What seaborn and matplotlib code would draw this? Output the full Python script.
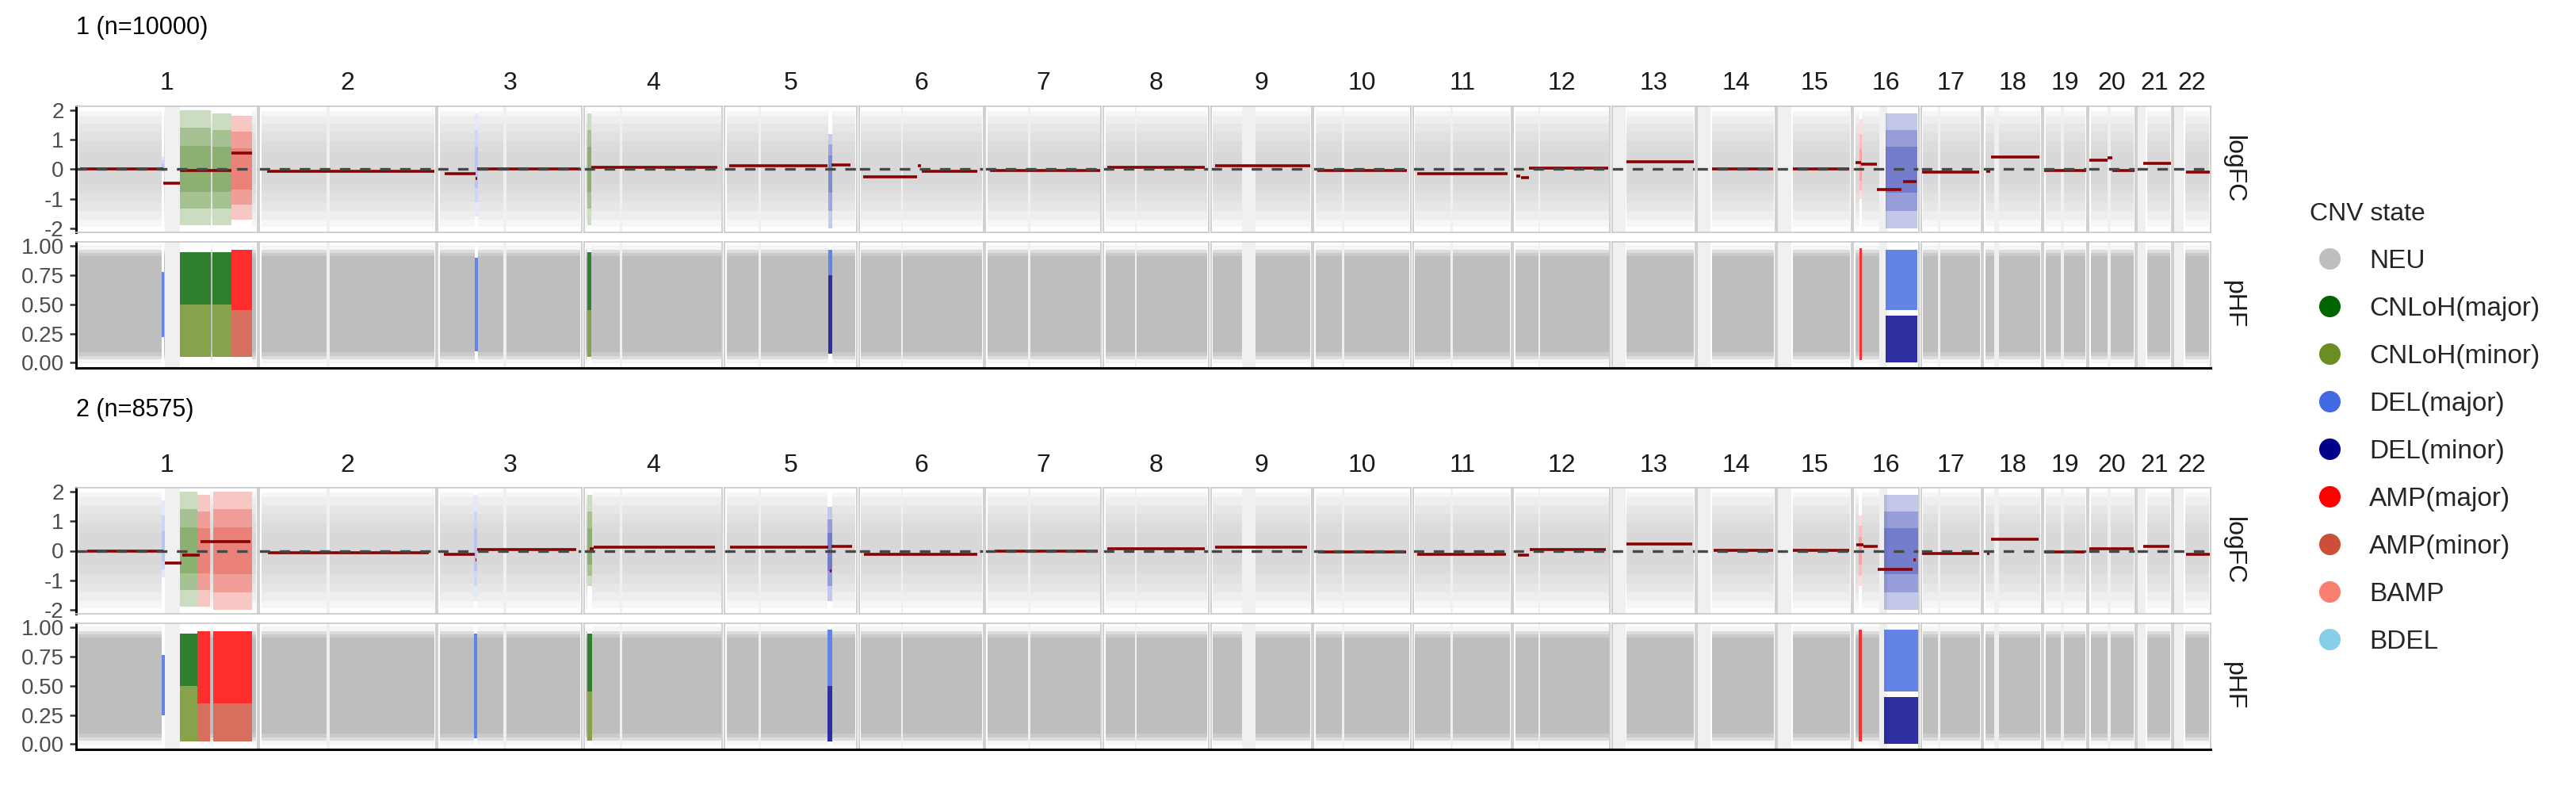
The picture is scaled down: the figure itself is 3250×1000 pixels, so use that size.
import pandas as pd
import seaborn as sns
import matplotlib.pyplot as plt
from matplotlib.lines import Line2D

# chromosome sizes and centromere / gap regions (Mb)
CHROMS = list(range(1, 23))
CHROM_LEN = [249, 242, 198, 190, 182, 171, 159, 145, 138, 134, 135, 133,
             114, 107, 102, 90, 83, 80, 59, 64, 47, 51]
GAP_START = [122, 92, 90, 49, 47, 58, 58, 44, 43, 39, 51, 34,
             0, 0, 0, 36, 23, 15, 24, 26, 0, 0]
GAP_END = [143, 96, 94, 52, 50, 60, 62, 46, 61, 42, 55, 37,
           18, 18, 20, 46, 27, 21, 28, 30, 12, 14]

GROUP_TITLES = ['1 (n=10000)', '2 (n=8575)']
PANELS = ['logFC', 'pHF']

STATES = ['NEU', 'CNLoH(major)', 'CNLoH(minor)', 'DEL(major)', 'DEL(minor)',
          'AMP(major)', 'AMP(minor)', 'BAMP', 'BDEL']
STATE_COLORS = ['#BEBEBE', '#006400', '#6B8E23', '#4169E1', '#00008B',
                '#FF0000', '#CD4F39', '#FA8072', '#87CEEB']

# how far the neutral point clouds reach, from the sparse tail to the dense core
NEU_LOGFC_LEVELS = [(-1.95, 1.98), (-1.7, 1.8), (-1.4, 1.55), (-1.1, 1.25),
                    (-0.8, 0.95), (-0.5, 0.6)]
NEU_PHF_LEVELS = [(-0.005, 1.005), (0.03, 0.97), (0.06, 0.94), (0.09, 0.91)]

# segment means: (chrom, start, end, logFC)
SEGMENTS_1 = [
    (1, 5, 120, 0.0), (1, 120, 143, -0.48), (1, 143, 213, -0.05), (1, 213, 242, 0.55),
    (2, 10, 240, -0.07),
    (3, 9, 52, -0.15), (3, 52, 54, -0.32), (3, 54, 196, 0.02),
    (4, 10, 183, 0.07),
    (5, 7, 142, 0.11), (5, 147, 173, 0.14),
    (6, 6, 80, -0.25), (6, 81, 85, 0.12), (6, 86, 162, -0.07),
    (7, 6, 157, -0.04),
    (8, 6, 139, 0.07),
    (9, 6, 136, 0.11),
    (10, 5, 128, -0.05),
    (11, 6, 130, -0.14),
    (12, 4, 10, -0.22), (12, 11, 21, -0.28), (12, 22, 130, 0.04),
    (13, 20, 112, 0.26),
    (14, 20, 104, 0.0),
    (15, 22, 99, 0.0),
    (16, 3, 10, 0.23), (16, 11, 32, 0.18), (16, 32, 66, -0.68), (16, 68, 87, -0.42),
    (17, 2, 80, -0.1),
    (18, 4, 9, -0.06), (18, 10, 77, 0.41),
    (19, 1, 58, -0.03),
    (20, 1, 26, 0.32), (20, 26, 32, 0.39), (20, 32, 63, -0.05),
    (21, 8, 46, 0.19),
    (22, 17, 50, -0.1),
]
SEGMENTS_2 = [
    (1, 15, 120, 0.0), (1, 122, 145, -0.41), (1, 146, 170, -0.15), (1, 171, 239, 0.32),
    (2, 12, 232, -0.06),
    (3, 8, 51, -0.13), (3, 52, 53, -0.32), (3, 54, 190, 0.04),
    (4, 8, 13, 0.06), (4, 13, 180, 0.12),
    (5, 8, 143, 0.12), (5, 145, 147, -0.67), (5, 147, 175, 0.16),
    (6, 7, 162, -0.13),
    (7, 13, 154, -0.01),
    (8, 6, 139, 0.08),
    (9, 6, 132, 0.12),
    (10, 6, 127, -0.04),
    (11, 6, 128, -0.11),
    (12, 6, 21, -0.16), (12, 23, 127, 0.04),
    (13, 20, 110, 0.24),
    (14, 23, 104, 0.02),
    (15, 22, 99, 0.01),
    (16, 4, 14, 0.21), (16, 14, 33, 0.14), (16, 33, 81, -0.63), (16, 82, 86, -0.3),
    (17, 2, 80, -0.1),
    (18, 5, 8, -0.1), (18, 11, 76, 0.4),
    (19, 1, 56, -0.03),
    (20, 1, 62, 0.07),
    (21, 8, 44, 0.15),
    (22, 17, 50, -0.11),
]

# called CNV regions: (chrom, start, end, state, logFC lo, logFC hi, pHF lo, pHF hi)
CNV_1 = [
    (1, 117, 121, 'DEL(major)', -0.1, 0.45, 0.22, 0.78),
    (1, 143, 185, 'CNLoH(major)', -1.9, 2.0, 0.5, 0.95),
    (1, 143, 185, 'CNLoH(minor)', -1.9, 2.0, 0.05, 0.5),
    (1, 187, 213, 'CNLoH(major)', -1.9, 1.9, 0.5, 0.95),
    (1, 187, 213, 'CNLoH(minor)', -1.9, 1.9, 0.05, 0.5),
    (1, 213, 242, 'AMP(major)', -1.7, 1.8, 0.45, 0.97),
    (1, 213, 242, 'AMP(minor)', -1.7, 1.8, 0.05, 0.45),
    (3, 51, 55, 'DEL(major)', -1.6, 1.9, 0.1, 0.9),
    (4, 5, 10, 'CNLoH(major)', -1.9, 1.9, 0.45, 0.95),
    (4, 5, 10, 'CNLoH(minor)', -1.9, 1.9, 0.05, 0.45),
    (5, 143, 148, 'DEL(minor)', -2.0, 1.2, 0.08, 0.75),
    (5, 143, 148, 'DEL(major)', -2.0, 1.2, 0.75, 0.97),
    (16, 8, 12, 'AMP(major)', -1.0, 1.7, 0.02, 0.98),
    (16, 44, 88, 'DEL(major)', -2.0, 1.9, 0.45, 0.97),
    (16, 44, 88, 'DEL(minor)', -2.0, 1.9, 0.0, 0.4),
]
CNV_2 = [
    (1, 117, 122, 'DEL(major)', -0.9, 1.7, 0.25, 0.76),
    (1, 143, 167, 'CNLoH(major)', -1.9, 2.0, 0.5, 0.95),
    (1, 143, 167, 'CNLoH(minor)', -1.9, 2.0, 0.02, 0.5),
    (1, 167, 184, 'AMP(major)', -1.9, 1.9, 0.35, 0.97),
    (1, 167, 184, 'AMP(minor)', -1.9, 1.9, 0.02, 0.35),
    (1, 188, 242, 'AMP(major)', -2.0, 2.0, 0.35, 0.97),
    (1, 188, 242, 'AMP(minor)', -2.0, 2.0, 0.02, 0.35),
    (3, 50, 54, 'DEL(major)', -1.7, 1.9, 0.05, 0.95),
    (4, 5, 11, 'CNLoH(major)', -1.2, 1.9, 0.45, 0.95),
    (4, 5, 11, 'CNLoH(minor)', -1.2, 1.9, 0.03, 0.45),
    (5, 142, 148, 'DEL(major)', -1.7, 1.5, 0.5, 0.98),
    (5, 142, 148, 'DEL(minor)', -1.7, 1.5, 0.02, 0.5),
    (16, 7, 12, 'AMP(major)', -1.2, 1.2, 0.02, 0.98),
    (16, 42, 89, 'DEL(major)', -2.0, 1.9, 0.45, 0.98),
    (16, 42, 89, 'DEL(minor)', -2.0, 1.9, 0.0, 0.4),
]

sns.set_theme(style='white')
plt.rcParams['font.family'] = ['Liberation Sans', 'DejaVu Sans']

W, H = 3250, 1000
X0, X1 = 96, 2789
FACET_GAP = 2.5
PANEL_H = 159
PANEL_TOPS = [[134, 305], [615, 786]]
TITLE_BASE = [43, 525]
CHROM_BASE = [113, 595]
YLIMS = {'logFC': (-2.13, 2.13), 'pHF': (-0.045, 1.035)}
YTICKS = {'logFC': ([-2, -1, 0, 1, 2], ['-2', '-1', '0', '1', '2']),
          'pHF': ([0, 0.25, 0.5, 0.75, 1.0], ['0.00', '0.25', '0.50', '0.75', '1.00'])}
state_color = dict(zip(STATES, STATE_COLORS))


def frac_rect(x0, y0, x1, y1):
    return [x0 / W, 1 - y1 / H, (x1 - x0) / W, (y1 - y0) / H]


def segment_frame(segments):
    rows = []
    for k, (c, s, e, v) in enumerate(segments):
        rows.append({'chrom': c, 'seg': k, 'pos': s, 'logFC': v})
        rows.append({'chrom': c, 'seg': k, 'pos': e, 'logFC': v})
    return pd.DataFrame(rows)


def cnv_frame(cnv):
    return pd.DataFrame(cnv, columns=['chrom', 'start', 'end', 'state',
                                      'fc_lo', 'fc_hi', 'phf_lo', 'phf_hi'])


def neutral_spans(ci, cnv_sub):
    L = CHROM_LEN[ci]
    start = GAP_END[ci] + 2 if GAP_START[ci] == 0 else 3
    spans = [(start, L - 2)]
    cuts = [(GAP_START[ci], GAP_END[ci])] + list(zip(cnv_sub['start'], cnv_sub['end']))
    for cs, ce in cuts:
        kept = []
        for s, e in spans:
            if ce <= s or cs >= e:
                kept.append((s, e))
                continue
            if cs > s:
                kept.append((s, cs))
            if ce < e:
                kept.append((ce, e))
        spans = kept
    return spans


def band(ax, s, e, lo, hi, color, alpha, z):
    ax.fill_between([s, e], [lo, lo], [hi, hi], color=color, alpha=alpha, lw=0, zorder=z)


scale = (X1 - X0 - FACET_GAP * (len(CHROMS) - 1)) / sum(CHROM_LEN)
facet_x = []
x = X0
for L in CHROM_LEN:
    facet_x.append((x, x + L * scale))
    x += L * scale + FACET_GAP

fig = plt.figure(figsize=(W / 100, H / 100), dpi=100)

seg_frames = [segment_frame(SEGMENTS_1), segment_frame(SEGMENTS_2)]
cnv_frames = [cnv_frame(CNV_1), cnv_frame(CNV_2)]

for gi in range(2):
    seg_df = seg_frames[gi]
    cnv_df = cnv_frames[gi]
    fig.text(X0 / W, 1 - TITLE_BASE[gi] / H, GROUP_TITLES[gi], ha='left', va='baseline',
             fontsize=22, color='black')

    for ci, chrom in enumerate(CHROMS):
        fx0, fx1 = facet_x[ci]
        L = CHROM_LEN[ci]
        cnv_sub = cnv_df[cnv_df['chrom'] == chrom]
        spans = neutral_spans(ci, cnv_sub)
        fig.text((fx0 + fx1) / 2 / W, 1 - CHROM_BASE[gi] / H, str(chrom), ha='center',
                 va='baseline', fontsize=23, color='#1A1A1A')

        for pi, panel in enumerate(PANELS):
            top = PANEL_TOPS[gi][pi]
            ax = fig.add_axes(frac_rect(fx0, top, fx1, top + PANEL_H))
            ax.axvspan(GAP_START[ci], GAP_END[ci], color='#F0F0F0', lw=0, zorder=0)

            if panel == 'logFC':
                for s, e in spans:
                    for lo, hi in NEU_LOGFC_LEVELS:
                        band(ax, s, e, lo, hi, STATE_COLORS[0], 0.13, 1)
                for _, r in cnv_sub.iterrows():
                    col = state_color[r['state']]
                    for f in (1.0, 0.7, 0.4):
                        band(ax, r['start'], r['end'], r['fc_lo'] * f, r['fc_hi'] * f,
                             col, 0.14, 2)
                sub = seg_df[seg_df['chrom'] == chrom]
                if len(sub):
                    sns.lineplot(data=sub, x='pos', y='logFC', units='seg', estimator=None,
                                 color='#8B0000', linewidth=2.6, legend=False, ax=ax,
                                 solid_capstyle='butt', zorder=3)
                ax.axhline(0, color='#474747', lw=2.4, ls=(0, (4, 3.6)), zorder=4)
            else:
                for s, e in spans:
                    for k, (lo, hi) in enumerate(NEU_PHF_LEVELS):
                        band(ax, s, e, lo, hi, STATE_COLORS[0], [0.15, 0.45, 0.6, 1.0][k], 1)
                for _, r in cnv_sub.iterrows():
                    band(ax, r['start'], r['end'], r['phf_lo'], r['phf_hi'],
                         state_color[r['state']], 0.82, 2)

            ax.set_xlim(0, L)
            ax.set_ylim(*YLIMS[panel])
            ax.set_xlabel('')
            ax.set_ylabel('')
            ax.set_xticks([])
            ax.set_facecolor('white')
            for side in ['left', 'right', 'top', 'bottom']:
                ax.spines[side].set_color('#C8C8C8')
                ax.spines[side].set_linewidth(1.2)
                ax.spines[side].set_zorder(6)
            if panel == 'pHF':
                ax.spines['bottom'].set_color('black')
                ax.spines['bottom'].set_linewidth(2.2)
            if ci == 0:
                ax.spines['left'].set_color('black')
                ax.spines['left'].set_linewidth(2.2)
                ticks, labels = YTICKS[panel]
                ax.set_yticks(ticks)
                ax.set_yticklabels(labels)
                ax.tick_params(axis='y', left=True, length=6, width=1.8, color='#333333',
                               pad=5, labelsize=20, labelcolor='#4D4D4D')
            else:
                ax.set_yticks([])

    for pi, panel in enumerate(PANELS):
        top = PANEL_TOPS[gi][pi]
        fig.text(2818 / W, 1 - (top + PANEL_H / 2) / H, panel, rotation=270,
                 ha='center', va='center', fontsize=23, color='#1A1A1A')

handles = [Line2D([0], [0], marker='o', ls='', markersize=19.5, markeredgewidth=0,
                  color=c) for c in STATE_COLORS]
leg = fig.legend(handles, STATES, title='CNV state', loc='upper left',
                 bbox_to_anchor=(2914 / W, 1 - 255 / H), frameon=False, fontsize=24,
                 title_fontsize=23, handlelength=1.5, handletextpad=0.75,
                 labelspacing=0.87, borderpad=0, borderaxespad=0, alignment='left')

fig.savefig('out.png', dpi=100)
